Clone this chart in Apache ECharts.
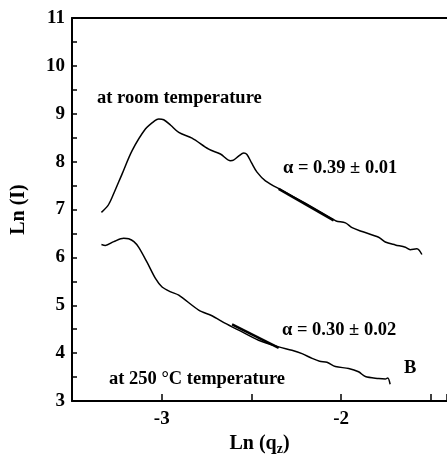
<!DOCTYPE html>
<html>
<head>
<meta charset="utf-8">
<script src="https://cdn.jsdelivr.net/npm/echarts@6/dist/echarts.min.js"></script>
<style>
html, body { margin: 0; padding: 0; background: #fff; }
#chart { width: 447px; height: 455px; }
</style>
</head>
<body>
<div id="chart"></div>
<script>
// room temperature curve
const roomX = [-3.336, -3.30, -3.277, -3.22, -3.165, -3.091, -3.04, -3.017, -2.989, -2.95, -2.905, -2.831, -2.738, -2.673, -2.617, -2.600, -2.57, -2.543, -2.525, -2.50, -2.469, -2.422, -2.330, -2.20, -2.051, -2.028, -1.976, -1.939, -1.883, -1.791, -1.754, -1.698, -1.642, -1.615, -1.578, -1.565, -1.550]
const roomY = [6.94, 7.08, 7.25, 7.75, 8.23, 8.68, 8.85, 8.89, 8.875, 8.76, 8.61, 8.49, 8.26, 8.16, 8.02, 8.03, 8.12, 8.18, 8.15, 7.98, 7.78, 7.60, 7.40, 7.13, 6.81, 6.76, 6.72, 6.62, 6.54, 6.42, 6.32, 6.26, 6.21, 6.16, 6.18, 6.15, 6.06]
// 250 °C curve
const hotX = [-3.336, -3.314, -3.267, -3.212, -3.184, -3.155, -3.128, -3.082, -3.035, -2.998, -2.95, -2.905, -2.794, -2.720, -2.645, -2.571, -2.460, -2.348, -2.274, -2.218, -2.162, -2.12, -2.079, -2.032, -1.958, -1.903, -1.865, -1.791, -1.754, -1.740, -1.727]
const hotY = [6.27, 6.25, 6.33, 6.40, 6.39, 6.33, 6.21, 5.90, 5.56, 5.38, 5.28, 5.21, 4.90, 4.78, 4.62, 4.48, 4.27, 4.13, 4.06, 3.99, 3.89, 3.83, 3.81, 3.72, 3.68, 3.61, 3.51, 3.47, 3.46, 3.48, 3.35]
// linear fit segments
const roomFitX = [-2.348, -2.042]
const roomFitY = [7.43, 6.77]
const hotFitX = [-2.608, -2.348]
const hotFitY = [4.60, 4.11]

const zip = (xs, ys) => xs.map((x, i) => [x, ys[i]])

const serif = 'Liberation Serif, Times New Roman, serif'
const labelStyle = { color: '#000', fontFamily: serif, fontWeight: 'bold', fontSize: 19 }
const intOnly = v => Number.isInteger(Math.round(v * 1000) / 1000) ? String(Math.round(v)) : ''

const chart = echarts.init(document.getElementById('chart'))

const option = {
  animation: false,
  grid: { left: 72, top: 18, right: 0, bottom: 54, containLabel: false, outerBoundsMode: 'none' },
  xAxis: [
    {
      type: 'value',
      min: -3.5,
      max: -1.41,
      interval: 0.5,
      name: 'Ln (q{s|z})',
      nameLocation: 'middle',
      nameGap: 29,
      nameTextStyle: {
        color: '#000', fontFamily: serif, fontWeight: 'bold', fontSize: 20,
        rich: { s: { fontFamily: serif, fontWeight: 'bold', fontSize: 14, padding: [10, 0, 0, 0] } }
      },
      axisLine: { lineStyle: { color: '#000', width: 2 } },
      axisTick: { inside: true, length: 7, lineStyle: { color: '#000', width: 1.5 } },
      axisLabel: { ...labelStyle, margin: 9, formatter: intOnly },
      splitLine: { show: false }
    },
    {
      type: 'value',
      position: 'top',
      min: -3.5,
      max: -1.41,
      axisLine: { lineStyle: { color: '#000', width: 2 } },
      axisTick: { show: false },
      axisLabel: { show: false },
      splitLine: { show: false }
    }
  ],
  yAxis: {
    type: 'value',
    min: 3,
    max: 11,
    interval: 0.5,
    name: 'Ln (I)',
    nameLocation: 'middle',
    nameGap: 43,
    nameRotate: 90,
    nameTextStyle: { color: '#000', fontFamily: serif, fontWeight: 'bold', fontSize: 20 },
    axisLine: { lineStyle: { color: '#000', width: 2 } },
    axisTick: { inside: true, length: 5, lineStyle: { color: '#000', width: 1.5 } },
    axisLabel: { ...labelStyle, margin: 7, formatter: intOnly },
    splitLine: { show: false }
  },
  series: [
    { type: 'line', data: zip(roomX, roomY), smooth: 0.3, showSymbol: false, lineStyle: { color: '#000', width: 1.5 } },
    { type: 'line', data: zip(hotX, hotY), smooth: 0.3, showSymbol: false, lineStyle: { color: '#000', width: 1.5 } },
    { type: 'line', data: zip(roomFitX, roomFitY), showSymbol: false, lineStyle: { color: '#000', width: 2.5 } },
    { type: 'line', data: zip(hotFitX, hotFitY), showSymbol: false, lineStyle: { color: '#000', width: 2.5 } }
  ],
  graphic: [
    { type: 'text', left: 97, top: 89, style: { text: 'at room temperature', font: 'bold 18.5px ' + serif, fill: '#000' } },
    { type: 'text', left: 283, top: 159, style: { text: 'α = 0.39 ± 0.01', font: 'bold 18.5px ' + serif, fill: '#000' } },
    { type: 'text', left: 282, top: 321, style: { text: 'α = 0.30 ± 0.02', font: 'bold 18.5px ' + serif, fill: '#000' } },
    { type: 'text', left: 404, top: 359, style: { text: 'B', font: 'bold 18.5px ' + serif, fill: '#000' } },
    { type: 'text', left: 109, top: 370, style: { text: 'at 250 °C temperature', font: 'bold 18.5px ' + serif, fill: '#000' } }
  ]
}

chart.setOption(option)
</script>
</body>
</html>
